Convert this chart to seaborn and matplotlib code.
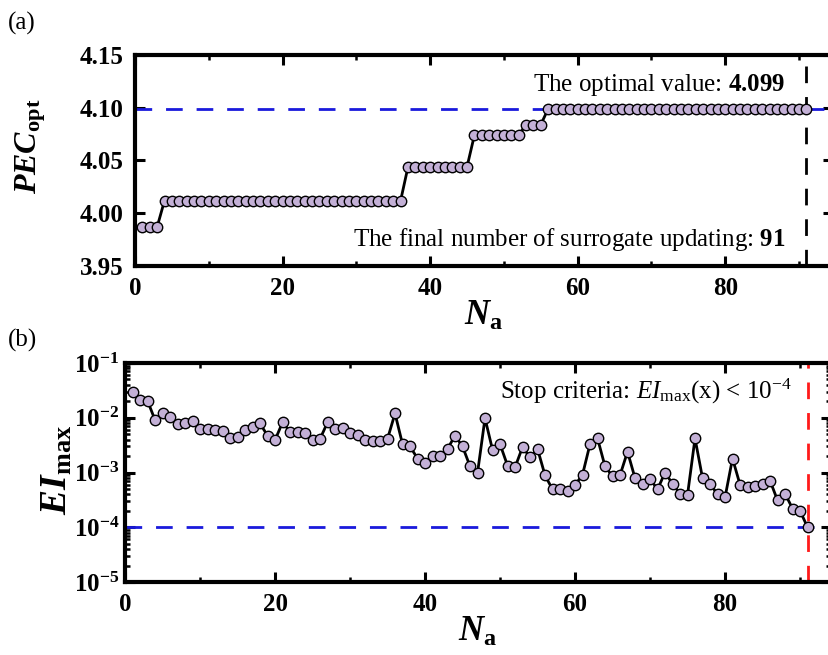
import matplotlib
matplotlib.use("Agg")
import matplotlib.pyplot as plt
import seaborn as sns
from matplotlib.ticker import MultipleLocator, LogLocator, NullFormatter

# Surrogate updating index
n_a = list(range(1, 92))

# (a) optimal PEC after each update (plateaus)
pec_opt = ([3.987] * 3 + [4.012] * 33 + [4.044] * 9 + [4.074] * 7
           + [4.084] * 3 + [4.099] * 36)

# (b) maximum expected improvement after each update
ei_max = [0.030, 0.021, 0.0205, 0.0091, 0.012, 0.0102, 0.0076, 0.0079, 0.0088, 0.0062,
          0.0062, 0.0060, 0.0057, 0.0042, 0.0044, 0.0060, 0.0069, 0.0079, 0.0047, 0.0039,
          0.0082, 0.0056, 0.0054, 0.0052, 0.0039, 0.0041, 0.0082, 0.0062, 0.0066, 0.0052,
          0.0049, 0.0039, 0.0038, 0.0037, 0.0041, 0.012, 0.0033, 0.0030, 0.0018, 0.0015,
          0.0020, 0.0020, 0.0027, 0.0047, 0.0030, 0.0013, 0.00098, 0.0098, 0.0026, 0.0033,
          0.00134, 0.00124, 0.0029, 0.0019, 0.0027, 0.00089, 0.00049, 0.00050, 0.00045, 0.00059,
          0.00091, 0.0033, 0.0042, 0.0013, 0.00085, 0.00089, 0.0024, 0.00079, 0.00062, 0.00077,
          0.00049, 0.0010, 0.00062, 0.00041, 0.00039, 0.0042, 0.00079, 0.00062, 0.00040, 0.00035,
          0.0018, 0.00060, 0.00054, 0.00056, 0.00062, 0.00071, 0.00031, 0.00041, 0.00022, 0.00020,
          0.00010]

best_value = 4.099
final_update = 91
ei_threshold = 1e-4

sns.set_style("ticks")
plt.rcParams["font.family"] = ["Liberation Serif", "DejaVu Serif"]
plt.rcParams["font.weight"] = "bold"
for key in ("axes.edgecolor", "axes.labelcolor", "xtick.color", "ytick.color", "text.color"):
    plt.rcParams[key] = "k"
plt.rcParams["mathtext.fontset"] = "custom"
plt.rcParams["mathtext.rm"] = "Liberation Serif:weight=normal"
plt.rcParams["mathtext.it"] = "Liberation Serif:style=italic:weight=normal"
plt.rcParams["mathtext.bf"] = "Liberation Serif:weight=bold"
plt.rcParams["mathtext.bfit"] = "Liberation Serif:style=italic:weight=bold"

marker_kw = dict(color="k", lw=2, marker="o", markersize=7.5,
                 markerfacecolor="#c3b0d6", markeredgecolor="k", markeredgewidth=1)
dash = (0, (6, 5))

fig = plt.figure(figsize=(8.29, 6.55), dpi=100)
ax1 = fig.add_axes([135 / 829, 1 - 266 / 655, 698 / 829, 211 / 655])
ax2 = fig.add_axes([125 / 829, 1 - 582 / 655, 706 / 829, 219 / 655])

# ---- (a) ----
ax1.axhline(best_value, color="#1a1adc", lw=2, ls=dash, zorder=1)
ax1.axvline(final_update, color="k", lw=2, ls=dash, zorder=1)
sns.lineplot(x=n_a, y=pec_opt, ax=ax1, zorder=3, **marker_kw)
ax1.set_xlim(0, 94.6)
ax1.set_ylim(3.95, 4.15)
ax1.xaxis.set_major_locator(MultipleLocator(20))
ax1.xaxis.set_minor_locator(MultipleLocator(10))
ax1.yaxis.set_major_locator(MultipleLocator(0.05))
ax1.yaxis.set_major_formatter(matplotlib.ticker.FormatStrFormatter("%.2f"))
ax1.text(88.2, 4.1161, r"The optimal value: $\mathbf{4.099}$", ha="right",
         va="baseline", fontsize=18, fontweight="normal")
ax1.text(88.2, 3.9688, r"The final number of surrogate updating: $\mathbf{91}$",
         ha="right", va="baseline", fontsize=18, fontweight="normal")
ax1.set_ylabel(r"$\mathbfit{PEC}_{\mathbf{opt}}$", fontsize=23)
ax1.yaxis.set_label_coords(-0.125, 0.57)

# ---- (b) ----
ax2.axhline(ei_threshold, color="#1a1adc", lw=2, ls=dash, zorder=1)
ax2.axvline(final_update, color="#ff1a1a", lw=2, ls=dash, zorder=1)
sns.lineplot(x=n_a, y=ei_max, ax=ax2, zorder=3, **marker_kw)
ax2.set_yscale("log")
ax2.set_xlim(0, 94.13)
ax2.set_ylim(1e-5, 1e-1)
ax2.xaxis.set_major_locator(MultipleLocator(20))
ax2.xaxis.set_minor_locator(MultipleLocator(10))
ax2.yaxis.set_major_locator(LogLocator(base=10, numticks=10))
ax2.yaxis.set_minor_locator(LogLocator(base=10, subs=range(2, 10), numticks=10))
ax2.yaxis.set_minor_formatter(NullFormatter())
ax2.text(88.9, 0.0226, r"Stop criteria: $\mathit{EI}_{\mathrm{max}}$(x) < $\mathrm{10}^{-4}$",
         ha="right", va="baseline", fontsize=18, fontweight="normal")
ax2.set_ylabel(r"$\mathbfit{EI}_{\mathbf{max}}$", fontsize=27)
ax2.yaxis.set_label_coords(-0.072, 0.51)

for ax, ypad in ((ax1, 8), (ax2, 4)):
    for side in ax.spines.values():
        side.set_linewidth(3)
    ax.tick_params(which="major", direction="in", length=7, width=2.2,
                   top=True, right=True, labelsize=18)
    ax.tick_params(which="minor", direction="in", length=3.5, width=1.8,
                   top=True, right=True)
    ax.tick_params(axis="x", pad=8)
    ax.tick_params(axis="y", pad=ypad)
    ax.set_xlabel(r"$\mathbfit{N}_{\mathbf{a}}$", fontsize=25, labelpad=0)

fig.text(8 / 829, 1 - 23 / 655, "(a)", fontsize=18, fontweight="normal", va="center")
fig.text(8 / 829, 1 - 340 / 655, "(b)", fontsize=18, fontweight="normal", va="center")

fig.savefig("out.png", dpi=100)
